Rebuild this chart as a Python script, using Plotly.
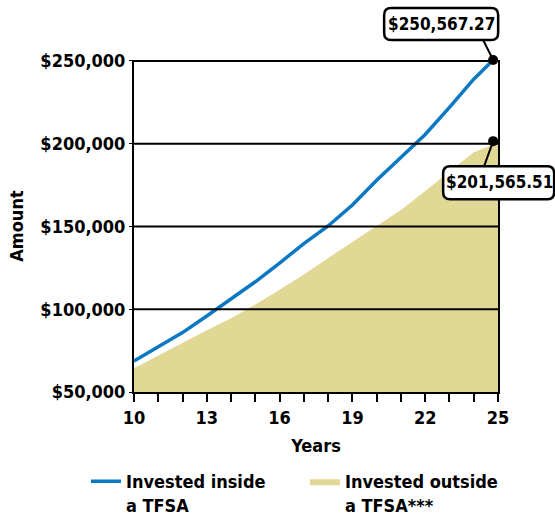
import plotly.graph_objects as go

# ---- data ----
years_inside = [10, 11, 12, 13, 14, 15, 16, 17, 18, 19, 20, 21, 22, 23, 24, 24.8]
inside_values = [68700, 77100, 85900, 95900, 106500, 116600, 127900, 139700, 150300,
                 163000, 178000, 192000, 205600, 222000, 239000, 250567.27]
years_outside = [10, 11, 12, 13, 14, 15, 16, 17, 18, 19, 20, 21, 22, 23, 24, 25]
outside_values = [64300, 72000, 79700, 87300, 94500, 102800, 111800, 121000, 131000,
                  140500, 150000, 160000, 171500, 183000, 194800, 200600]
end_year = 24.8
end_labels = ["$250,567.27", "$201,565.51"]
end_values = [250567.27, 201565.51]
series_names = ["Invested inside<br>a TFSA", "Invested outside<br>a TFSA***"]
x_range = [10, 25]
y_range = [50000, 250600]
x_tickvals = [10, 13, 16, 19, 22, 25]
y_tickvals = [50000, 100000, 150000, 200000, 250000]
y_ticktext = ["$50,000", "$100,000", "$150,000", "$200,000", "$250,000"]

BLUE = "#0a78c2"
TAN = "#e2d896"
FONT = "Liberation Sans Narrow, DejaVu Sans Condensed, Arial Narrow, sans-serif"


def px_frac(v):
    return (v - x_range[0]) / (x_range[1] - x_range[0])


def py_frac(v):
    return (v - y_range[0]) / (y_range[1] - y_range[0])


fig = go.Figure()
fig.add_trace(go.Scatter(x=years_outside, y=outside_values, mode="lines",
                         line=dict(color=TAN, width=0), fill="tozeroy", fillcolor=TAN,
                         name=series_names[1], legendrank=2))
fig.add_trace(go.Scatter(x=years_inside, y=inside_values, mode="lines",
                         line=dict(color=BLUE, width=3.5), name=series_names[0], legendrank=1))


def rounded(x0, x1, y0, y1, r):
    # pixel coordinates, y positive upward
    return (f"M{x0+r},{y0} L{x1-r},{y0} Q{x1},{y0} {x1},{y0+r} L{x1},{y1-r} "
            f"Q{x1},{y1} {x1-r},{y1} L{x0+r},{y1} Q{x0},{y1} {x0},{y1-r} "
            f"L{x0},{y0+r} Q{x0},{y0} {x0+r},{y0} Z")


shapes = []
# grid lines on top of the fill
for v in y_tickvals[1:]:
    shapes.append(dict(type="line", xref="paper", x0=0, x1=1, yref="y", y0=v, y1=v,
                       line=dict(color="black", width=2), layer="above"))

# callouts: (box x0,x1,y0,y1 relative to dot, connector end, text shift)
callouts = [
    dict(box=(-109, 5, 20, 52), conn=(-10, 20), shift=(-52, 36)),
    dict(box=(-50, 61, -58, -25), conn=(-9, -25), shift=(6, -41)),
]
annotations = []
for c, v, t in zip(callouts, end_values, end_labels):
    xa, ya = px_frac(end_year), py_frac(v)
    shapes.append(dict(type="line", xref="paper", yref="paper", xsizemode="pixel", ysizemode="pixel",
                       xanchor=xa, yanchor=ya, x0=0, y0=0, x1=c["conn"][0], y1=c["conn"][1],
                       line=dict(color="black", width=2), layer="above"))
    bx0, bx1, by0, by1 = c["box"]
    shapes.append(dict(type="path", xref="paper", yref="paper", xsizemode="pixel", ysizemode="pixel",
                       xanchor=xa, yanchor=ya, path=rounded(bx0, bx1, by0, by1, 7),
                       fillcolor="white", line=dict(color="black", width=2.5), layer="above"))
    annotations.append(dict(x=xa, y=ya, xref="paper", yref="paper", text=t, showarrow=False,
                            xanchor="center", yanchor="middle",
                            xshift=c["shift"][0], yshift=c["shift"][1],
                            font=dict(family=FONT, size=17, color="black", weight="bold")))

# end-point dots
fig.add_trace(go.Scatter(x=[end_year, end_year], y=end_values, mode="markers",
                         marker=dict(color="black", size=10), showlegend=False,
                         cliponaxis=False))

fig.update_layout(
    width=555, height=517,
    margin=dict(l=134, r=57, t=60, b=125, autoexpand=False),
    paper_bgcolor="white", plot_bgcolor="white",
    font=dict(family=FONT, size=18, color="black", weight="bold"),
    shapes=shapes, annotations=annotations,
    showlegend=True,
    legend=dict(orientation="h", x=-0.132, xanchor="left", y=-0.214, yanchor="top",
                entrywidth=174, entrywidthmode="pixels", valign="top",
                font=dict(family=FONT, size=18, color="black", weight="bold"),
                bgcolor="rgba(0,0,0,0)"),
    xaxis=dict(range=x_range, tickvals=x_tickvals, ticks="outside", ticklen=8, tickwidth=1.5,
               tickcolor="black", showline=True, linecolor="black", linewidth=2, mirror=False,
               showgrid=False, zeroline=False,
               minor=dict(dtick=1, tick0=10, ticks="outside", ticklen=8, tickwidth=1.5,
                          tickcolor="black"),
               title=dict(text="Years", font=dict(family=FONT, size=18, weight="bold"), standoff=13),
               tickfont=dict(family=FONT, size=18, weight="bold")),
    yaxis=dict(range=y_range, tickvals=y_tickvals, ticktext=y_ticktext,
               ticks="outside", ticklen=3, tickcolor="black",
               showline=True, linecolor="black", linewidth=2, mirror=True,
               showgrid=False, zeroline=False,
               title=dict(text="Amount", font=dict(family=FONT, size=18, weight="bold"), standoff=12),
               tickfont=dict(family=FONT, size=18, weight="bold")),
)

fig.write_html("out.html", config={"displayModeBar": False},
               post_script="document.body.style.margin='0';")
